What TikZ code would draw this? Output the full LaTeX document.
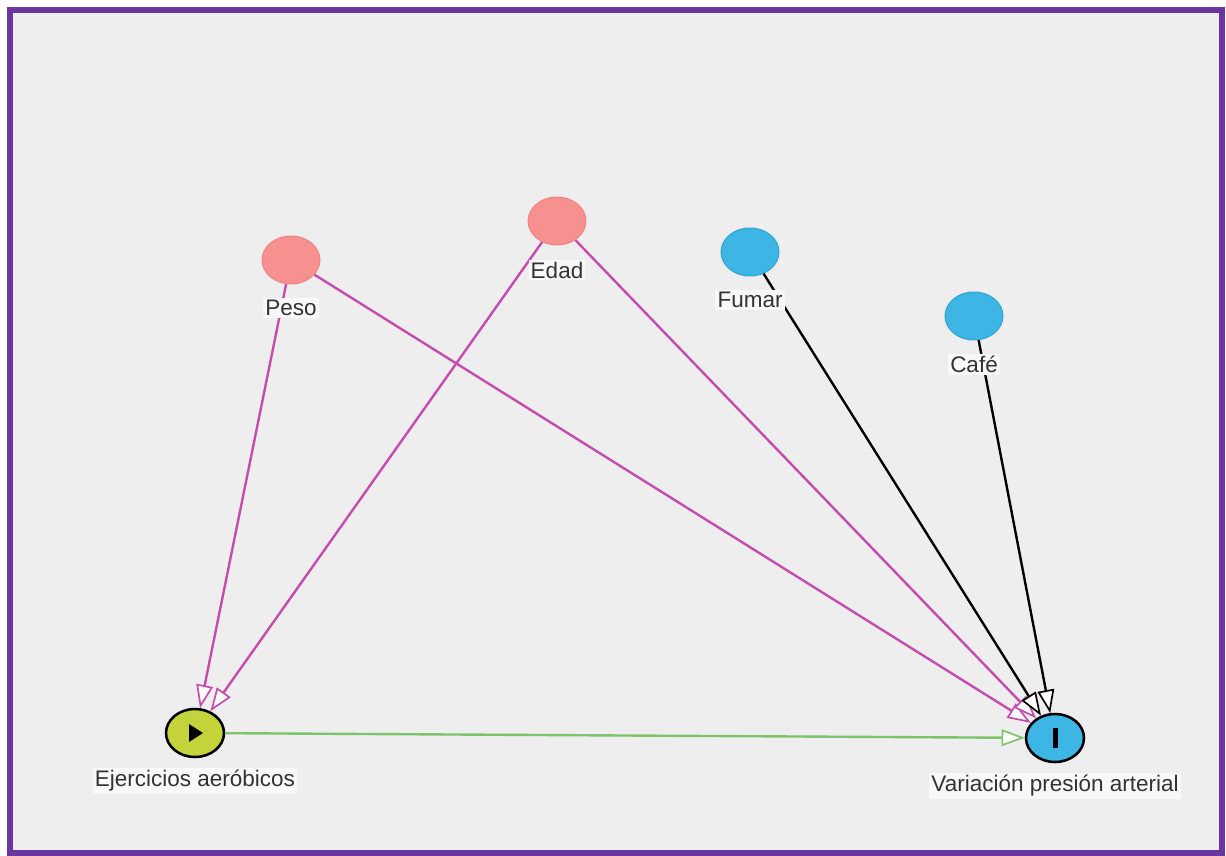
\documentclass[tikz,border=0pt]{standalone}
\usepackage{fontspec}
\setmainfont{Liberation Sans}
\usetikzlibrary{arrows.meta,shapes.geometric}
\definecolor{fondo}{HTML}{EEEEEE}
\definecolor{marco}{HTML}{6A35A0}
\definecolor{rosa}{HTML}{F7918F}
\definecolor{rosaborde}{HTML}{EE8585}
\definecolor{celeste}{HTML}{3DB6E6}
\definecolor{celesteborde}{HTML}{2FA2D4}
\definecolor{lima}{HTML}{C2D43A}
\definecolor{lila}{HTML}{C64BAE}
\definecolor{verde}{HTML}{7CC46A}
\definecolor{texto}{HTML}{333333}

\begin{document}
\begin{tikzpicture}[x=0.25mm,y=-0.25mm,
	var/.style={ellipse,minimum width=14.5mm,minimum height=12mm,inner sep=0pt,line width=0.7pt},
	conf/.style={var,fill=rosa,draw=rosaborde},
	anc/.style={var,fill=celeste,draw=celesteborde},
	expo/.style={var,fill=lima,draw=black,line width=1.8pt},
	resu/.style={var,fill=celeste,draw=black,line width=1.8pt},
	etiq/.style={fill=white!60!fondo,text=texto,inner sep=1.5pt,font=\fontsize{16}{18}\selectfont},
	flecha/.style={line width=1.7pt,-{Triangle[open,fill=white,length=5.8mm,width=4.2mm,line width=1.2pt]}}]
	% fondo y marco
	\useasboundingbox (0,0) rectangle (1226,856);
	\fill[white] (0,0) rectangle (1226,856);
	\fill[fondo] (10,10) rectangle (1222,853);
	\draw[marco,line width=1.6mm] (10,10) rectangle (1222,853);
	% variables
	\node[conf] (peso) at (291,260) {};
	\node[conf] (edad) at (557,221) {};
	\node[anc] (fumar) at (750,252) {};
	\node[anc] (cafe) at (974,316) {};
	\node[expo] (ejer) at (195,733) {};
	\node[resu] (pres) at (1055,738) {};
	\fill (ejer.center) ++(-6,-9) -- ++(0,18) -- ++(14,-9) -- cycle;
	\fill (pres.center) ++(-2.5,-10) rectangle ++(5,20);
	% flechas
	\draw[flecha,lila] (peso) -- (ejer);
	\draw[flecha,lila] (edad) -- (ejer);
	\draw[flecha,lila] (peso) -- (pres);
	\draw[flecha,lila] (edad) -- (pres);
	\draw[flecha,black] (fumar) -- (pres);
	\draw[flecha,black] (cafe) -- (pres);
	\draw[flecha,verde] (ejer) -- (pres);
	% etiquetas
	\node[etiq] (tpeso) at (291,308) {Peso};
	\node[etiq] (tedad) at (557,270) {Edad};
	\node[etiq] (tfumar) at (750,300) {Fumar};
	\node[etiq] (tcafe) at (974,364) {Café};
	\node[etiq] (tejer) at (195,781) {Ejercicios aeróbicos};
	\node[etiq] (tpres) at (1055,786) {Variación presión arterial};
\end{tikzpicture}
\end{document}
